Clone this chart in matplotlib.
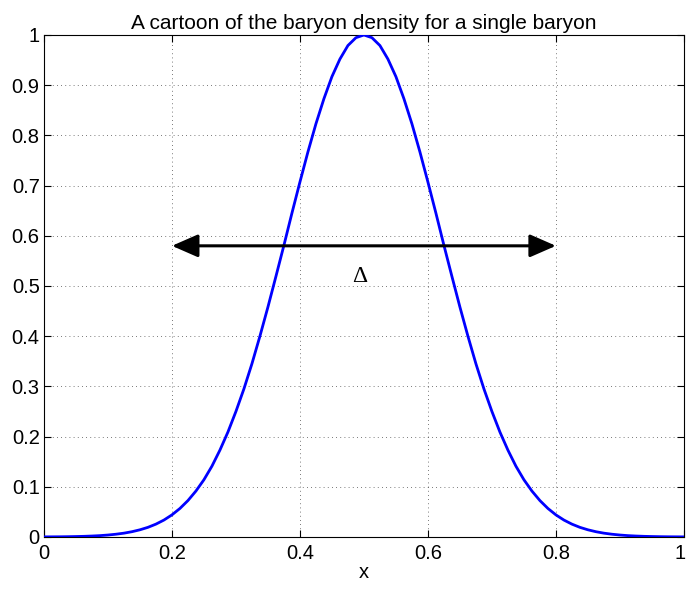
import numpy as np
import matplotlib
matplotlib.use('Agg')
import matplotlib.pyplot as plt
from matplotlib.transforms import ScaledTranslation

plt.rcParams['font.family'] = ['Liberation Sans', 'DejaVu Sans']

# density curve at steps of 0.0125
x_vals = [0.0000, 0.0125, 0.0250, 0.0375, 0.0500, 0.0625, 0.0750, 0.0875, 0.1000, 0.1125,
          0.1250, 0.1375, 0.1500, 0.1625, 0.1750, 0.1875, 0.2000, 0.2125, 0.2250, 0.2375,
          0.2500, 0.2625, 0.2750, 0.2875, 0.3000, 0.3125, 0.3250, 0.3375, 0.3500, 0.3625,
          0.3750, 0.3875, 0.4000, 0.4125, 0.4250, 0.4375, 0.4500, 0.4625, 0.4750, 0.4875,
          0.5000, 0.5125, 0.5250, 0.5375, 0.5500, 0.5625, 0.5750, 0.5875, 0.6000, 0.6125,
          0.6250, 0.6375, 0.6500, 0.6625, 0.6750, 0.6875, 0.7000, 0.7125, 0.7250, 0.7375,
          0.7500, 0.7625, 0.7750, 0.7875, 0.8000, 0.8125, 0.8250, 0.8375, 0.8500, 0.8625,
          0.8750, 0.8875, 0.9000, 0.9125, 0.9250, 0.9375, 0.9500, 0.9625, 0.9750, 0.9875,
          1.0000]
density = [0.0002, 0.0003, 0.0004, 0.0006, 0.0009, 0.0013, 0.0019, 0.0027, 0.0039, 0.0055,
           0.0076, 0.0105, 0.0143, 0.0192, 0.0256, 0.0337, 0.0440, 0.0568, 0.0725, 0.0915,
           0.1140, 0.1410, 0.1730, 0.2090, 0.2500, 0.2950, 0.3450, 0.4000, 0.4580, 0.5190,
           0.5810, 0.6450, 0.7070, 0.7670, 0.8230, 0.8730, 0.9170, 0.9520, 0.9790, 0.9946,
           1.0000, 0.9946, 0.9790, 0.9520, 0.9170, 0.8730, 0.8230, 0.7670, 0.7070, 0.6450,
           0.5810, 0.5190, 0.4580, 0.4000, 0.3450, 0.2950, 0.2500, 0.2090, 0.1730, 0.1410,
           0.1140, 0.0915, 0.0725, 0.0568, 0.0440, 0.0337, 0.0256, 0.0192, 0.0143, 0.0105,
           0.0076, 0.0055, 0.0039, 0.0027, 0.0019, 0.0013, 0.0009, 0.0006, 0.0004, 0.0003,
           0.0002]

# width arrow
arrow_x = [0.2, 0.8]
arrow_y = 0.58
delta_pos = (0.494, 0.518)

fig = plt.figure(figsize=(6.86, 5.91), dpi=100)
ax = fig.add_axes([0.064, 0.0914, 0.933, 0.8494])

ax.plot(x_vals, density, color='#0000ff', linewidth=2, zorder=3)

ax.annotate('', xy=(arrow_x[1], arrow_y), xytext=(arrow_x[0], arrow_y),
            arrowprops=dict(arrowstyle='<|-|>,head_length=0.8,head_width=0.35',
                            color='black', lw=2.2, mutation_scale=20,
                            shrinkA=0, shrinkB=0),
            zorder=4)
ax.text(delta_pos[0], delta_pos[1], '\u0394', fontsize=17, family='Liberation Serif',
        ha='center', va='center')

ax.set_xlim(0, 1)
ax.set_ylim(0, 1)
ax.set_xticks(np.arange(0, 1.01, 0.2))
ax.set_xticklabels(['0', '0.2', '0.4', '0.6', '0.8', '1'])
ax.set_yticks(np.arange(0, 1.01, 0.1))
ax.set_yticklabels(['0', '0.1', '0.2', '0.3', '0.4', '0.5', '0.6', '0.7', '0.8', '0.9', '1'])
ax.tick_params(direction='in', length=5, labelsize=14.5, top=True, right=True)
ax.tick_params(axis='x', pad=5)
ax.tick_params(axis='y', pad=3)
ax.grid(True, linestyle=(0, (1, 4)), color='black', linewidth=0.6, alpha=0.7)
for s in ax.spines.values():
    s.set_linewidth(0.8)

# keep the last x label inside the figure
last = ax.get_xticklabels()[-1]
last.set_transform(last.get_transform() + ScaledTranslation(-3 / 72, 0, fig.dpi_scale_trans))

ax.set_xlabel('x', fontsize=14.5, labelpad=0)
ax.set_title('A cartoon of the baryon density for a single baryon', fontsize=15, pad=4)

fig.savefig('out.png', dpi=100)
